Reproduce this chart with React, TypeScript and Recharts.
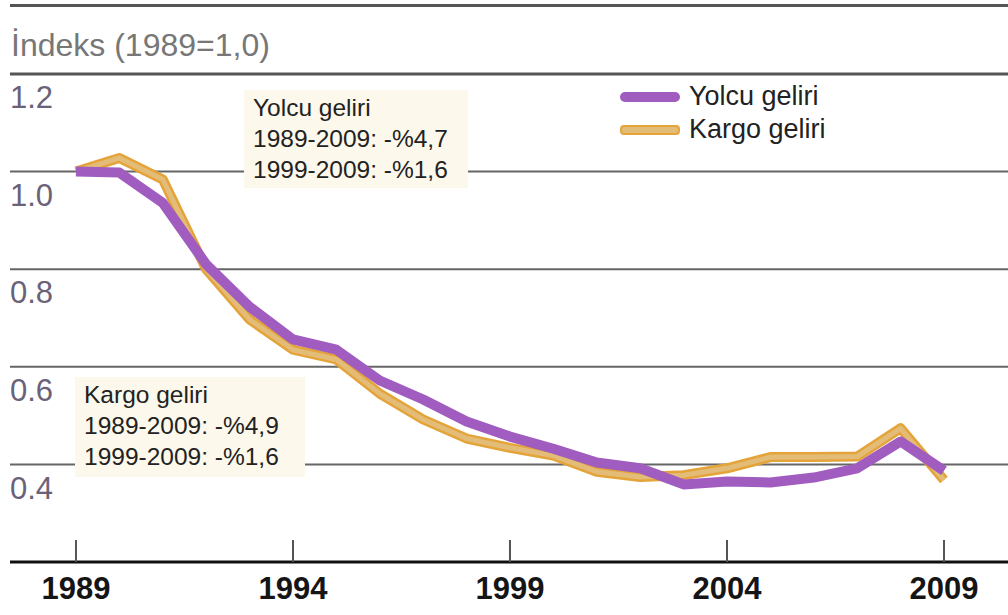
import React from "react";
import { LineChart, Line, XAxis, YAxis, CartesianGrid, ReferenceLine } from "recharts";

const years = [1989, 1990, 1991, 1992, 1993, 1994, 1995, 1996, 1997, 1998, 1999, 2000, 2001, 2002, 2003, 2004, 2005, 2006, 2007, 2008, 2009];
const yolcu = [1.0, 0.998, 0.936, 0.81, 0.723, 0.656, 0.635, 0.572, 0.533, 0.488, 0.457, 0.432, 0.404, 0.392, 0.359, 0.365, 0.363, 0.373, 0.392, 0.447, 0.387];
const kargo = [1.0, 1.028, 0.984, 0.8, 0.697, 0.635, 0.615, 0.545, 0.492, 0.453, 0.434, 0.418, 0.385, 0.374, 0.378, 0.392, 0.415, 0.415, 0.416, 0.474, 0.368];
const xTicks = [1989, 1994, 1999, 2004, 2009];
const yTicks = [0.4, 0.6, 0.8, 1.0, 1.2];
const titleText = "İndeks (1989=1,0)";
const yolcuNote = ["Yolcu geliri", "1989-2009: -%4,7", "1999-2009: -%1,6"];
const kargoNote = ["Kargo geliri", "1989-2009: -%4,9", "1999-2009: -%1,6"];

const data = years.map((y, i) => ({ year: y, yolcu: yolcu[i], kargo: kargo[i] }));

const FONT = '"Liberation Sans", Arial, sans-serif';

const XTick = (props: any) => {
  const { x, y, payload } = props;
  return (
    <g>
      <line x1={x} x2={x} y1={y - 22} y2={y} stroke="#555" strokeWidth={2} />
      <text x={x} y={y + 29} textAnchor="middle" dominantBaseline="middle" fontFamily={FONT} fontWeight="bold" fontSize={31} fill="#151515">
        {payload.value}
      </text>
    </g>
  );
};

const YTick = (props: any) => {
  const { y, payload } = props;
  return (
    <text x={10} y={y + 26} textAnchor="start" dominantBaseline="middle" fontFamily={FONT} fontSize={31} fill="#6a6278">
      {Number(payload.value).toFixed(1)}
    </text>
  );
};

const Note = ({ lines, left, top, width, height }: any) => (
  <div
    style={{
      position: "absolute",
      left,
      top,
      width,
      height,
      background: "#fdf8ec",
      fontFamily: FONT,
      fontSize: 24.5,
      color: "#222",
      boxSizing: "border-box",
      paddingLeft: 9,
      paddingTop: 2,
      lineHeight: "31px",
    }}
  >
    {lines.map((l: string, i: number) => (
      <div key={i}>{l}</div>
    ))}
  </div>
);

export default function App() {
  return (
    <div style={{ position: "absolute", left: 0, top: 0, width: 1008, height: 615, background: "#fff", overflow: "hidden" }}>
      <LineChart width={1008} height={615} data={data} margin={{ top: 74, right: 0, bottom: 0, left: 0 }}>
        <CartesianGrid horizontal vertical={false} stroke="#666" strokeWidth={2} />
        <ReferenceLine y={1.2} stroke="#555" strokeWidth={3} />
        <XAxis
          dataKey="year"
          type="number"
          domain={[1987.48, 2010.475]}
          allowDataOverflow
          ticks={xTicks}
          interval={0}
          height={53}
          tickSize={0}
          tickMargin={0}
          tickLine={false}
          axisLine={{ stroke: "#111", strokeWidth: 3 }}
          tick={<XTick />}
        />
        <YAxis
          type="number"
          domain={[0.2, 1.2]}
          ticks={yTicks}
          interval={0}
          width={10}
          tickSize={0}
          tickMargin={0}
          tickLine={false}
          axisLine={false}
          tick={<YTick />}
        />
        <Line dataKey="kargo" stroke="#e4a43a" strokeWidth={10} dot={false} isAnimationActive={false} strokeLinejoin="round" />
        <Line dataKey="kargo" stroke="#e3bd78" strokeWidth={5} dot={false} isAnimationActive={false} strokeLinejoin="round" legendType="none" />
        <Line dataKey="yolcu" stroke="#a05cbf" strokeWidth={10} dot={false} isAnimationActive={false} strokeLinejoin="round" />
      </LineChart>

      <div style={{ position: "absolute", left: 10, top: 4, right: 0, height: 3, background: "#555" }} />
      <div style={{ position: "absolute", left: 11, top: 25, fontFamily: FONT, fontSize: 32, color: "#777", lineHeight: "40px" }}>
        {titleText}
      </div>

      <Note lines={yolcuNote} left={244} top={90} width={224} height={98} />
      <Note lines={kargoNote} left={75} top={377} width={230} height={100} />

      <div style={{ position: "absolute", left: 620, top: 80, fontFamily: FONT, fontSize: 27, color: "#222" }}>
        <div style={{ display: "flex", alignItems: "center", height: 33 }}>
          <div style={{ width: 60, height: 10, borderRadius: 5, background: "#a05cbf", marginRight: 9 }} />
          <span>Yolcu geliri</span>
        </div>
        <div style={{ display: "flex", alignItems: "center", height: 33 }}>
          <div style={{ width: 56, height: 6, borderRadius: 4, background: "#e3bd78", border: "2px solid #e4a43a", marginRight: 9 }} />
          <span>Kargo geliri</span>
        </div>
      </div>
    </div>
  );
}
